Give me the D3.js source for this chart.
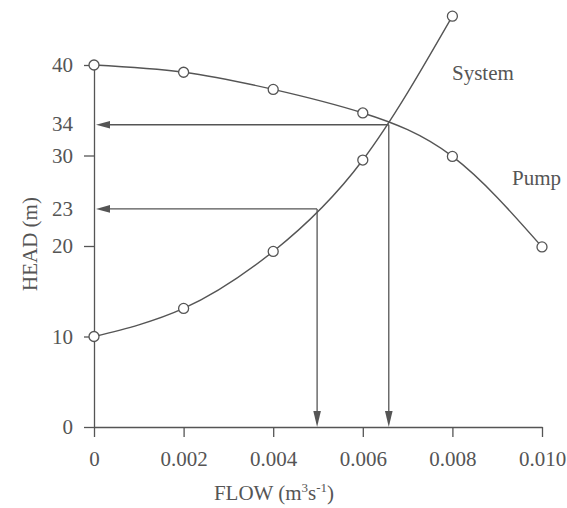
<!DOCTYPE html>
<html>
<head>
<meta charset="utf-8">
<script src="https://cdn.jsdelivr.net/npm/d3@7"></script>
<style>
  html, body { margin: 0; padding: 0; background: #fff; }
  svg text { font-family: "Liberation Serif", "Times New Roman", serif; fill: #555; }
</style>
</head>
<body>
<svg id="chart" width="567" height="508"></svg>
<script>
// ---- data ----
const flow = [0, 0.002, 0.004, 0.006, 0.008, 0.010];
const pumpHead = [40, 39.2, 37.3, 34.7, 29.9, 19.9];
const systemFlow = [0, 0.002, 0.004, 0.006, 0.008];
const systemHead = [10, 13.1, 19.4, 29.5, 45.4];
const xTickValues = [0, 0.002, 0.004, 0.006, 0.008, 0.010];
const xTickLabels = ["0", "0.002", "0.004", "0.006", "0.008", "0.010"];
const yTickValues = [0, 10, 20, 30, 40];
const yTickLabels = ["0", "10", "20", "30", "40"];
// operating points marked with arrows (position as drawn, label as printed)
const opFlow = [0.00658, 0.00498];
const opHead = [33.4, 24.1];
const opLabels = ["34", "23"];
const seriesNames = ["System", "Pump"];

// ---- chart ----
const svg = d3.select("#chart");
const ink = "#555";
const x = d3.scaleLinear().domain([0, 0.010]).range([94, 542]);
const y = d3.scaleLinear().domain([0, 40]).range([427, 65]);

// axes
const xAxis = d3.axisBottom(x)
  .tickValues(xTickValues)
  .tickFormat((d, i) => xTickLabels[i])
  .tickSize(10).tickSizeOuter(0).tickPadding(14);
const gx = svg.append("g").attr("transform", `translate(0,${y(0)})`).call(xAxis);

const yAxis = d3.axisLeft(y)
  .tickValues(yTickValues)
  .tickFormat((d, i) => yTickLabels[i])
  .tickSize(10).tickSizeOuter(0).tickPadding(11);
const gy = svg.append("g").attr("transform", `translate(${x(0)},0)`).call(yAxis);

[gx, gy].forEach(g => {
  g.selectAll("path.domain").attr("stroke", ink).attr("stroke-width", 1.3);
  g.selectAll(".tick line").attr("stroke", ink).attr("stroke-width", 1.3);
  g.selectAll(".tick text").style("font-size", "21px").attr("fill", ink);
});

// extra y labels for operating heads
svg.append("g").selectAll("text").data(opHead).join("text")
  .attr("x", x(0) - 21)
  .attr("y", d => y(d))
  .attr("dy", "0.32em")
  .attr("text-anchor", "end")
  .style("font-size", "21px")
  .text((d, i) => opLabels[i]);

// curves
const line = d3.line().curve(d3.curveNatural);
svg.append("path")
  .attr("d", line(flow.map((f, i) => [x(f), y(pumpHead[i])])))
  .attr("fill", "none").attr("stroke", ink).attr("stroke-width", 1.4);
svg.append("path")
  .attr("d", line(systemFlow.map((f, i) => [x(f), y(systemHead[i])])))
  .attr("fill", "none").attr("stroke", ink).attr("stroke-width", 1.4);

// arrows
const arrowLen = 14, arrowHalf = 3.8;
opFlow.forEach((f, i) => {
  const px = x(f), py = y(opHead[i]);
  const ax = x(0), ay = y(0);
  const g = svg.append("g");
  g.append("line").attr("x1", px).attr("y1", py).attr("x2", ax + arrowLen).attr("y2", py)
    .attr("stroke", ink).attr("stroke-width", 1.3);
  g.append("path")
    .attr("d", `M${ax + 2},${py}L${ax + 2 + arrowLen},${py - arrowHalf}L${ax + 2 + arrowLen},${py + arrowHalf}Z`)
    .attr("fill", ink);
  g.append("line").attr("x1", px).attr("y1", py).attr("x2", px).attr("y2", ay - arrowLen)
    .attr("stroke", ink).attr("stroke-width", 1.3);
  g.append("path")
    .attr("d", `M${px},${ay}L${px - arrowHalf},${ay - arrowLen - 2}L${px + arrowHalf},${ay - arrowLen - 2}Z`)
    .attr("fill", ink);
});

// data markers
const markers = flow.map((f, i) => [f, pumpHead[i]])
  .concat(systemFlow.map((f, i) => [f, systemHead[i]]));
svg.append("g").selectAll("circle").data(markers).join("circle")
  .attr("cx", d => x(d[0])).attr("cy", d => y(d[1])).attr("r", 5)
  .attr("fill", "#fff").attr("stroke", ink).attr("stroke-width", 1.3);

// series labels
svg.append("text").attr("x", 452).attr("y", 80).style("font-size", "21px").text(seriesNames[0]);
svg.append("text").attr("x", 512).attr("y", 185).style("font-size", "21px").text(seriesNames[1]);

// axis titles
svg.append("text")
  .attr("transform", "translate(37,244) rotate(-90)")
  .attr("text-anchor", "middle")
  .style("font-size", "21px")
  .text("HEAD (m)");

const xt = svg.append("text")
  .attr("x", 274).attr("y", 500)
  .attr("text-anchor", "middle")
  .style("font-size", "21px");
xt.append("tspan").text("FLOW (m");
xt.append("tspan").attr("dy", -8).style("font-size", "13px").text("3");
xt.append("tspan").attr("dy", 8).text("s");
xt.append("tspan").attr("dy", -8).style("font-size", "13px").text("-1");
xt.append("tspan").attr("dy", 8).text(")");
</script>
</body>
</html>
